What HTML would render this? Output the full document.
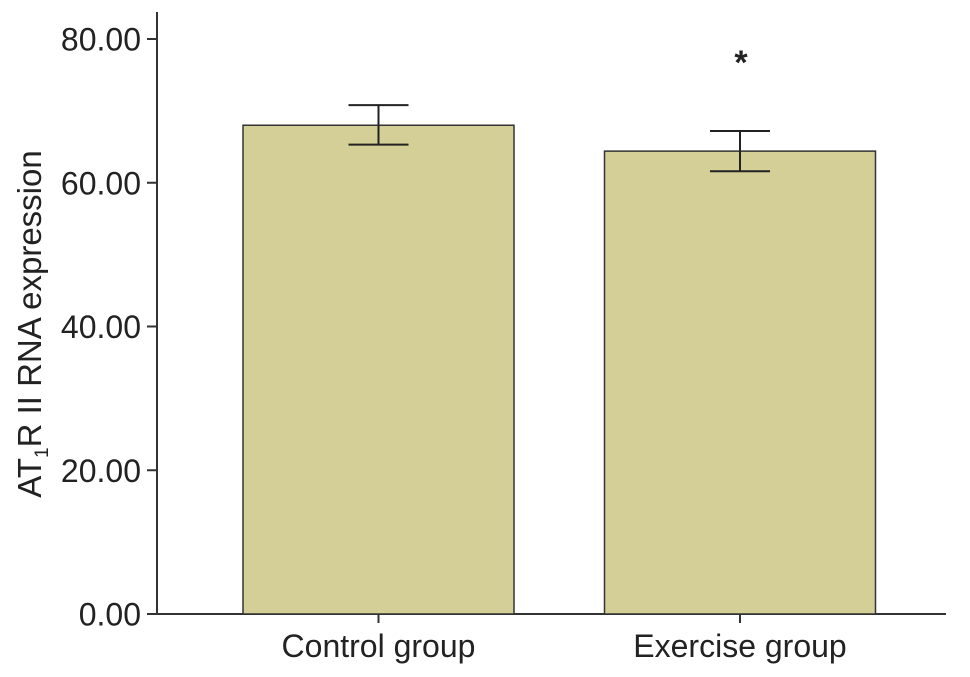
<!DOCTYPE html>
<html><head><meta charset="utf-8"><style>
html,body{margin:0;padding:0;background:#fff;}
svg{display:block;font-family:"Liberation Sans",Arial,sans-serif;}
</style></head><body>
<svg id="chart" width="970" height="677">
<g id="axes"></g><g id="bars"></g>
<text transform="translate(41,324) rotate(-90)" text-anchor="middle" font-size="33" fill="#222">AT<tspan font-size="19" dy="7">1</tspan><tspan dy="-7">R II RNA expression</tspan></text>
</svg>
<script>
const categories = ["Control group", "Exercise group"];
const means = [68.0, 64.4];
const errUpper = [70.8, 67.2];
const errLower = [65.3, 61.6];
const significance = ["", "*"];
const yTicks = [0, 20, 40, 60, 80];
const yTickLabels = ["0.00", "20.00", "40.00", "60.00", "80.00"];

const NS = "http://www.w3.org/2000/svg";
const y0 = 614, pxPerUnit = 575/80, axisX = 157;
const yScale = v => y0 - v * pxPerUnit;
const barCenters = [378.5, 740];
const barW = 271;
function mk(tag, attrs, parent){const e=document.createElementNS(NS,tag);for(const k in attrs)e.setAttribute(k,attrs[k]);parent.appendChild(e);return e;}
const axes=document.getElementById('axes'), bars=document.getElementById('bars');

const ya=mk('line',{x1:axisX,y1:12,x2:axisX,y2:y0,stroke:'#333','stroke-width':2},axes);


const xa=mk('line',{x1:axisX,y1:y0,x2:946,y2:y0,stroke:'#333','stroke-width':2},axes);



yTicks.forEach((t,i)=>{
  const y=yScale(t);
  const tk=mk('line',{x1:axisX-10,y1:y,x2:axisX,y2:y,stroke:'#333','stroke-width':2},axes);
  
  
  const tx=mk('text',{x:141,y:y+11.5,'text-anchor':'end','font-size':32,fill:'#222'},axes);
  tx.textContent=yTickLabels[i];
  
  
});

categories.forEach((c,i)=>{
  const cx=barCenters[i];
  const r=mk('rect',{x:cx-barW/2,y:yScale(means[i]),width:barW,height:y0-yScale(means[i]),fill:'#d4cf96',stroke:'#333','stroke-width':1.5},bars);
  
  
  const g=mk('g',{stroke:'#222','stroke-width':2,fill:'none'},bars);
  
  
  mk('line',{x1:cx,y1:yScale(errUpper[i]),x2:cx,y2:yScale(errLower[i])},g);
  mk('line',{x1:cx-30,y1:yScale(errUpper[i]),x2:cx+30,y2:yScale(errUpper[i])},g);
  mk('line',{x1:cx-30,y1:yScale(errLower[i]),x2:cx+30,y2:yScale(errLower[i])},g);
  const tk=mk('line',{x1:cx,y1:y0,x2:cx,y2:y0+9,stroke:'#333','stroke-width':2},axes);
  
  
  const lb=mk('text',{x:cx,y:657,'text-anchor':'middle','font-size':32,fill:'#222'},axes);
  lb.textContent=c;
  
  
  if(significance[i]){
    const s=mk('text',{x:cx+1,y:yScale(errUpper[i])-57,'text-anchor':'middle','font-size':34,'font-weight':'bold',fill:'#222'},bars);
    s.textContent=significance[i];
    
    
  }
});
</script>
</body></html>
